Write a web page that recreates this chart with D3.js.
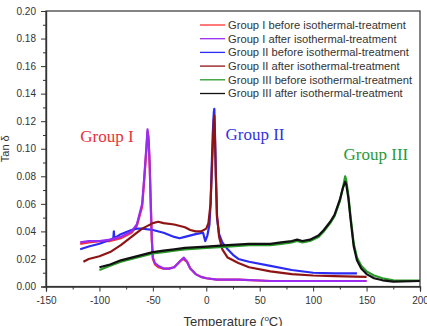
<!DOCTYPE html>
<html>
<head>
<meta charset="utf-8">
<script src="https://cdn.jsdelivr.net/npm/d3@7"></script>
<style>
body { margin: 0; background: #fff; }
svg { display: block; font-family: "Liberation Sans", Arial, sans-serif; }
</style>
</head>
<body>
<div id="chart"></div>
<script>
// temperature (C) readings and tan delta readings, per curve
var seriesNames = [
	"Group I before isothermal-treatment",
	"Group I after isothermal-treatment",
	"Group II before isothermal-treatment",
	"Group II after isothermal-treatment",
	"Group III before isothermal-treatment",
	"Group III after isothermal-treatment"
];
var seriesColors = ["#ff3030", "#9a2cf0", "#2b2bf5", "#8e1414", "#2a9a2a", "#111111"];

var g1BeforeT = [-118, -110, -100, -90, -80, -70, -65, -60, -58, -56, -55, -54, -53, -52, -51, -50, -48, -45, -40, -35, -30, -25, -22, -18, -15, -10, -5, 0, 10, 30, 60, 100, 150];
var g1BeforeV = [0.031, 0.032, 0.033, 0.033, 0.035, 0.039, 0.044, 0.058, 0.078, 0.100, 0.112, 0.106, 0.088, 0.060, 0.034, 0.020, 0.016, 0.014, 0.013, 0.013, 0.014, 0.018, 0.020, 0.018, 0.013, 0.009, 0.007, 0.006, 0.005, 0.005, 0.004, 0.004, 0.004];

var g1AfterT = [-118, -110, -100, -90, -80, -75, -70, -65, -60, -58, -56, -55, -54, -53, -52, -51, -50, -48, -45, -40, -35, -30, -25, -21, -18, -15, -10, -5, 0, 10, 30, 60, 100, 150];
var g1AfterV = [0.032, 0.033, 0.033, 0.034, 0.036, 0.038, 0.040, 0.045, 0.060, 0.080, 0.102, 0.114, 0.108, 0.090, 0.062, 0.035, 0.021, 0.017, 0.015, 0.013, 0.013, 0.014, 0.018, 0.021, 0.018, 0.013, 0.009, 0.007, 0.006, 0.005, 0.005, 0.004, 0.004, 0.004];

var g2BeforeT = [-118, -110, -100, -90, -87, -86.5, -86, -80, -70, -65, -60, -50, -40, -30, -25, -20, -10, -3, -1, 1, 3, 4, 5, 6, 7, 7.5, 8, 9, 10, 12, 15, 20, 25, 30, 40, 60, 80, 100, 120, 141];
var g2BeforeV = [0.027, 0.029, 0.031, 0.034, 0.035, 0.040, 0.035, 0.038, 0.041, 0.042, 0.042, 0.041, 0.039, 0.036, 0.035, 0.036, 0.038, 0.039, 0.033, 0.037, 0.045, 0.060, 0.085, 0.110, 0.126, 0.129, 0.115, 0.080, 0.050, 0.038, 0.032, 0.027, 0.023, 0.020, 0.018, 0.015, 0.012, 0.010, 0.0095, 0.0095];

var g2AfterT = [-115, -110, -100, -90, -80, -70, -60, -50, -45, -40, -30, -20, -15, -10, -5, 0, 2, 4, 5, 6, 7, 7.5, 8, 9, 10, 12, 15, 20, 30, 40, 60, 80, 100, 120, 150];
var g2AfterV = [0.018, 0.020, 0.022, 0.025, 0.030, 0.036, 0.042, 0.046, 0.047, 0.046, 0.045, 0.043, 0.041, 0.040, 0.040, 0.042, 0.046, 0.060, 0.080, 0.100, 0.120, 0.124, 0.112, 0.080, 0.052, 0.036, 0.027, 0.021, 0.017, 0.014, 0.011, 0.009, 0.008, 0.0075, 0.007];

var g3BeforeT = [-100, -90, -80, -70, -60, -50, -40, -30, -20, 0, 20, 40, 60, 70, 80, 85, 90, 97, 105, 110, 116, 120, 125, 128, 130, 131, 133, 135, 138, 141, 145, 150, 157, 165, 175, 200];
var g3BeforeV = [0.012, 0.015, 0.018, 0.020, 0.022, 0.024, 0.025, 0.026, 0.027, 0.028, 0.029, 0.030, 0.030, 0.031, 0.032, 0.033, 0.032, 0.033, 0.036, 0.040, 0.046, 0.051, 0.062, 0.072, 0.080, 0.077, 0.066, 0.051, 0.031, 0.021, 0.015, 0.011, 0.008, 0.006, 0.0045, 0.0042];

var g3AfterT = [-100, -90, -80, -70, -60, -50, -40, -30, -20, 0, 20, 40, 60, 70, 80, 85, 90, 97, 105, 110, 116, 120, 125, 128, 130, 131, 133, 135, 138, 141, 145, 150, 157, 165, 175, 200];
var g3AfterV = [0.014, 0.016, 0.019, 0.021, 0.023, 0.025, 0.026, 0.027, 0.028, 0.029, 0.030, 0.031, 0.031, 0.032, 0.033, 0.034, 0.033, 0.034, 0.037, 0.041, 0.047, 0.052, 0.063, 0.072, 0.076, 0.074, 0.064, 0.049, 0.029, 0.019, 0.013, 0.009, 0.006, 0.0045, 0.0035, 0.004];

var xTicks = [-150, -100, -50, 0, 50, 100, 150, 200];
var yTicks = [0.00, 0.02, 0.04, 0.06, 0.08, 0.10, 0.12, 0.14, 0.16, 0.18, 0.20];

var groupLabels = ["Group I", "Group II", "Group III"];
var groupLabelColors = ["#e8323c", "#3434e0", "#2a9a3a"];
// where each annotation starts, in data units
var groupLabelT = [-118, 18, 128.5];
var groupLabelV = [0.105, 0.106, 0.0915];

function pairs(t, v){
	let out = [];
	for (let i = 0; i < t.length; i++){
		out.push({t: t[i], v: v[i]});
	}
	return out;
}

const width = 427;
const height = 326;
const plotLeft = 46, plotRight = 420, plotTop = 11, plotBottom = 286.5;

const xScale = d3.scaleLinear().domain([-150, 200]).range([plotLeft, plotRight]);
const yScale = d3.scaleLinear().domain([0, 0.2]).range([plotBottom, plotTop]);

const svg = d3.select('#chart')
	.append('svg')
		.attr('width', width)
		.attr('height', height);

// curves, drawn in the order they stack in the picture
const curves = [
	pairs(g1BeforeT, g1BeforeV),
	pairs(g1AfterT, g1AfterV),
	pairs(g2BeforeT, g2BeforeV),
	pairs(g2AfterT, g2AfterV),
	pairs(g3BeforeT, g3BeforeV),
	pairs(g3AfterT, g3AfterV)
];
const drawOrder = [0, 2, 1, 3, 4, 5];

const line = d3.line()
	.x(d => xScale(d.t))
	.y(d => yScale(d.v));

svg.append('g')
	.selectAll('path')
	.data(drawOrder)
	.enter()
		.append('path')
			.attr('d', i => line(curves[i]))
			.attr('fill', 'none')
			.attr('stroke', i => seriesColors[i])
			.attr('stroke-width', 2.2)
			.attr('stroke-linejoin', 'round');

// frame
svg.append('rect')
	.attr('x', plotLeft)
	.attr('y', plotTop)
	.attr('width', plotRight - plotLeft)
	.attr('height', plotBottom - plotTop)
	.attr('fill', 'none')
	.attr('stroke', '#333')
	.attr('stroke-width', 1.2);

// axes with minor ticks
const xAxis = svg.append('g')
	.attr('transform', `translate(0, ${plotBottom})`)
	.call(d3.axisBottom(xScale).tickValues(xTicks).tickSize(5).tickPadding(5).tickFormat(d => String(d)));
svg.append('g')
	.attr('transform', `translate(0, ${plotBottom})`)
	.call(d3.axisBottom(xScale).tickValues(d3.range(-125, 200, 50)).tickSize(3).tickFormat(''));

svg.append('g')
	.attr('transform', `translate(${plotLeft}, 0)`)
	.call(d3.axisLeft(yScale).tickValues(yTicks).tickSize(5).tickPadding(5).tickFormat(d3.format('.2f')));
svg.append('g')
	.attr('transform', `translate(${plotLeft}, 0)`)
	.call(d3.axisLeft(yScale).tickValues(d3.range(0.01, 0.2, 0.02)).tickSize(3).tickFormat(''));

svg.selectAll('.domain').attr('stroke', '#333').attr('stroke-width', 1.2);
svg.selectAll('.tick line').attr('stroke', '#333');
svg.selectAll('.tick text')
	.attr('fill', '#333')
	.style('font-size', '10px')
	.style('font-family', '"Liberation Sans", Arial, sans-serif');

// axis titles
const xTitle = svg.append('text')
	.attr('x', (plotLeft + plotRight) / 2)
	.attr('y', 326)
	.attr('text-anchor', 'middle')
	.attr('fill', '#333')
	.style('font-size', '13px');
xTitle.append('tspan').text('Temperature (');
xTitle.append('tspan').attr('dy', -5).style('font-size', '8px').text('o');
xTitle.append('tspan').attr('dy', 5).text('C)');

svg.append('text')
	.attr('transform', `translate(9, ${(plotTop + plotBottom) / 2}) rotate(-90)`)
	.attr('text-anchor', 'middle')
	.attr('fill', '#333')
	.style('font-size', '11px')
	.text('Tan δ');

// legend
const legend = svg.append('g')
	.selectAll('g')
	.data(seriesNames)
	.enter()
		.append('g')
			.attr('transform', (d, i) => `translate(200, ${25 + i * 13.7})`);
legend.append('line')
	.attr('x1', 0).attr('x2', 25)
	.attr('stroke', (d, i) => seriesColors[i])
	.attr('stroke-width', 1.3);
legend.append('text')
	.attr('x', 28)
	.attr('dy', '0.35em')
	.attr('fill', '#333')
	.style('font-size', '11.2px')
	.text(d => d);

// group annotations
svg.append('g')
	.selectAll('text')
	.data(groupLabels)
	.enter()
		.append('text')
			.attr('x', (d, i) => xScale(groupLabelT[i]))
			.attr('y', (d, i) => yScale(groupLabelV[i]))
			.attr('fill', (d, i) => groupLabelColors[i])
			.style('font-family', '"Liberation Serif", "Times New Roman", serif')
			.style('font-size', '17px')
			.text(d => d);
</script>
</body>
</html>
